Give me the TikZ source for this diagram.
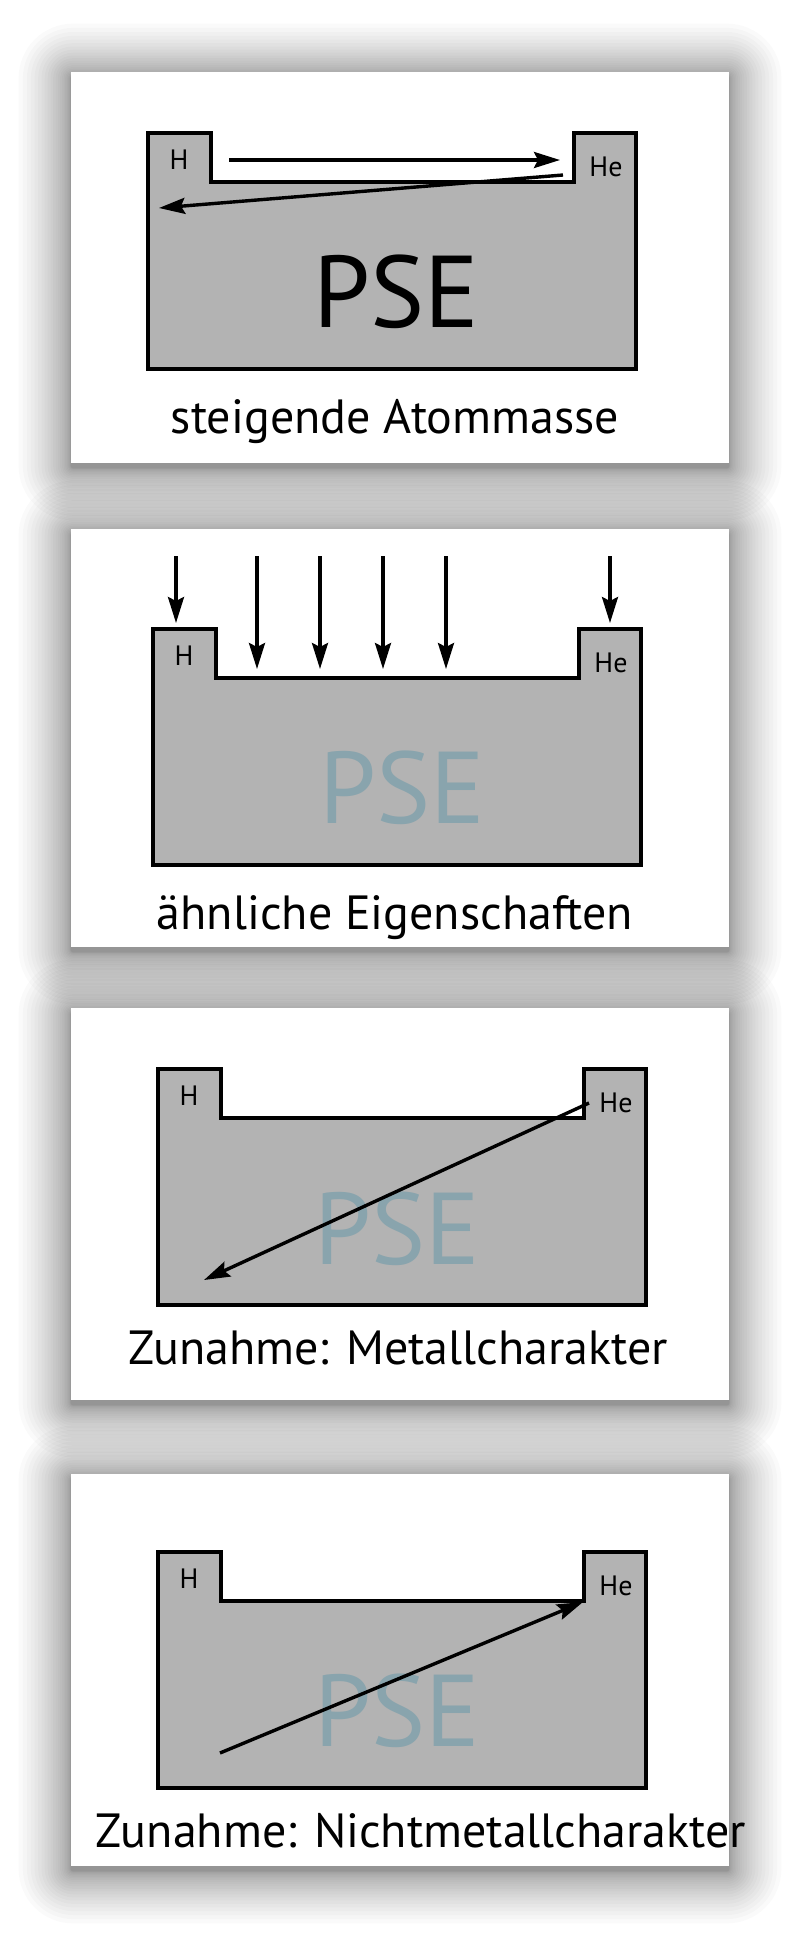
\documentclass[tikz,border=0pt]{standalone}
\usepackage{fontspec}
\setmainfont{PT Sans}
\usetikzlibrary{arrows.meta,positioning}
\definecolor{tablegray}{HTML}{B3B3B3}
\definecolor{slate}{HTML}{89A4AD}
\tikzset{
  pse/.pic={
    \draw[table] (0,0) -- (63,0) -- (63,49) -- (426,49) -- (426,0) -- (488,0) -- (488,236) -- (0,236) -- cycle;
    \node[elem] (-H) at (31,27) {H};
    \node[elem] (-He) at (458,34) {He};
  },
}

\begin{document}
\begin{tikzpicture}[x=0.5pt,y=-0.5pt,
  card/.style={fill=white},
  table/.style={draw=black, line width=2pt, fill=tablegray, line join=miter},
  elem/.style={font=\fontsize{14}{14}\selectfont, inner sep=0pt},
  bigpse/.style={font=\fontsize{51}{51}\selectfont, inner sep=0pt},
  caption/.style={font=\fontsize{24}{24}\selectfont, anchor=base, inner sep=0pt},
  trend/.style={-{Stealth[length=13pt,width=8pt,inset=2pt]}, line width=1.7pt},
]
\useasboundingbox[fill=white] (0,0) rectangle (800,1938);

% soft shadows and cards
\foreach \top/\bot in {72/463,529/947,1008/1400,1474/1866}{
  \foreach \i in {1,...,24}{
    \pgfmathsetmacro\e{\i*\i/11}
    \pgfmathsetmacro\r{\e*0.5+1}
    \fill[black, fill opacity=0.019, rounded corners=\r pt] (71-\e,\top-\e+4) rectangle (729+\e,\bot+\e+5);
  }
  \fill[card] (71,\top) rectangle (729,\bot);
}

% 1: steigende Atommasse
\begin{scope}[shift={(148,133)}]
  \pic (t1) at (0,0) {pse};
  \node[bigpse] (pse1) at (248,159) {PSE};
  \coordinate (a1) at (81,27);
  \coordinate (b1) at (412,27);
  \coordinate (c1) at (415,42);
  \coordinate (d1) at (11,75);
  \draw[trend] (a1) -- (b1);
  \draw[trend] (c1) -- (d1);
\end{scope}
\node[caption] (cap1) at (395,433) {steigende Atommasse};

% 2: aehnliche Eigenschaften
\begin{scope}[shift={(153,629)}]
  \pic (t2) at (0,0) {pse};
  \node[bigpse, text=slate] (pse2) at (249,159) {PSE};
  \foreach \x/\y [count=\n] in {23/-6,104/40,167/40,230/40,293/40,457/-6}{
    \coordinate (top\n) at (\x,-73);
    \coordinate (bot\n) at (\x,\y);
    \draw[trend] (top\n) -- (bot\n);
  }
\end{scope}
\node[caption] (cap2) at (395,929) {ähnliche Eigenschaften};

% 3: Metallcharakter
\begin{scope}[shift={(158,1069)}]
  \pic (t3) at (0,0) {pse};
  \node[bigpse, text=slate] (pse3) at (239,160) {PSE};
  \coordinate (a3) at (431,34);
  \coordinate (b3) at (46,211);
  \draw[trend] (a3) -- (b3);
\end{scope}
\node[caption] (cap3) at (398,1364) {Zunahme: Metallcharakter};

% 4: Nichtmetallcharakter
\begin{scope}[shift={(158,1552)}]
  \pic (t4) at (0,0) {pse};
  \node[bigpse, text=slate] (pse4) at (239,159) {PSE};
  \coordinate (a4) at (62,201);
  \coordinate (b4) at (425,50);
  \draw[trend] (a4) -- (b4);
\end{scope}
\node[caption] (cap4) at (421,1847) {Zunahme: Nichtmetallcharakter};
\end{tikzpicture}
\end{document}
